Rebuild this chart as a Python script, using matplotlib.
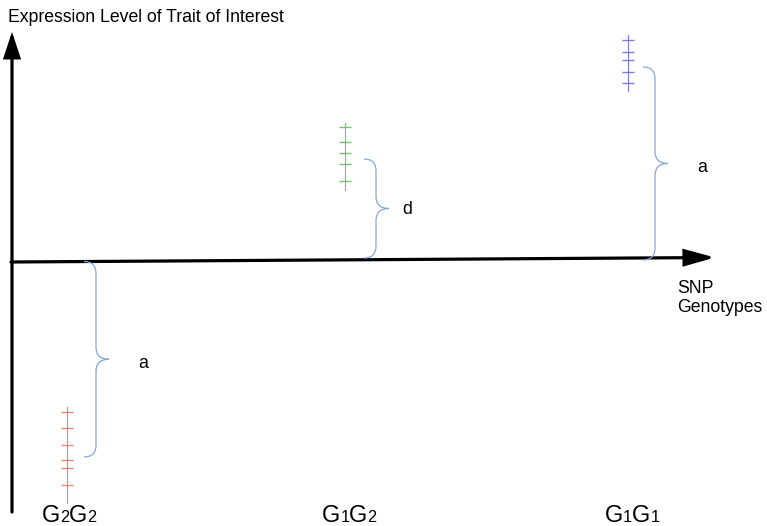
import matplotlib
matplotlib.use("Agg")
import matplotlib.pyplot as plt
from matplotlib.path import Path
from matplotlib.patches import PathPatch, FancyArrowPatch

plt.rcParams['font.family'] = ['Liberation Sans', 'DejaVu Sans']

# ---- data (y = expression level relative to the genotype axis) ----
genotype_parts = [[("G", "big"), ("2", "small"), ("G", "big"), ("2", "small")],
                  [("G", "big"), ("1", "small"), ("G", "big"), ("2", "small")],
                  [("G", "big"), ("1", "small"), ("G", "big"), ("1", "small")]]
genotype_x = [67, 345, 628]
label_x = [42, 322, 605]
red_levels = [-150, -166, -183, -198, -206, -223]
green_levels = [135, 120, 109, 98, 81]
blue_levels = [222, 210, 202, 190, 179]
group_levels = [red_levels, green_levels, blue_levels]
group_colors = ["#e87a66", "#6cbb6c", "#6a6af0"]
stem_ranges = [(-145, -241), (139, 72), (227, 171)]

brace_labels = ["a", "d", "a"]
brace_spans = [(0.5, -195), (103, 4), (195, 2)]
brace_x = [84, 364, 643]
brace_label_x = [143, 407, 702]
brace_label_y = [-102, 53, 94]

y_title = "Expression Level of Trait of Interest"
x_title_lines = ["SNP", "Genotypes"]

W, H = 767, 526
fig = plt.figure(figsize=(W / 100, H / 100), dpi=100)
ax = fig.add_axes([0, 0, 1, 1])
ax.set_xlim(0, W)
ax.set_ylim(-264, 262)
ax.axis("off")

# axes arrows
ax.add_patch(FancyArrowPatch((12, -250), (12, 230),
                             arrowstyle="-|>,head_length=15,head_width=5",
                             mutation_scale=1, lw=2.3, color="black",
                             shrinkA=0, shrinkB=0, joinstyle="miter"))
ax.add_patch(FancyArrowPatch((11, 0), (715, 4.5),
                             arrowstyle="-|>,head_length=18,head_width=5",
                             mutation_scale=1, lw=2.3, color="black",
                             shrinkA=0, shrinkB=0, joinstyle="miter"))

# marker groups
for x, levels, col, (s0, s1) in zip(genotype_x, group_levels, group_colors, stem_ranges):
    ax.plot([x, x], [s0, s1], color=col, lw=0.8, alpha=0.9)
    ax.plot([x] * len(levels), levels, linestyle="none", marker="_",
            markersize=8.6, mew=1.0, color=col, alpha=0.9)


def brace(x_end, y_top, y_bot, r=12, tip=13, h=12):
    xs = x_end + r
    xt = xs + tip
    ym = (y_top + y_bot) / 2
    verts = [(x_end, y_top), (xs, y_top), (xs, y_top - h),
             (xs, ym + h), (xs, ym), (xt, ym),
             (xs, ym), (xs, ym - h),
             (xs, y_bot + h), (xs, y_bot), (x_end, y_bot)]
    codes = [Path.MOVETO, Path.CURVE3, Path.CURVE3,
             Path.LINETO, Path.CURVE3, Path.CURVE3,
             Path.CURVE3, Path.CURVE3,
             Path.LINETO, Path.CURVE3, Path.CURVE3]
    ax.add_patch(PathPatch(Path(verts, codes), fill=False,
                           edgecolor="#86a6d8", lw=0.9))


for xe, (yt, yb), lab, lx, ly in zip(brace_x, brace_spans, brace_labels,
                                     brace_label_x, brace_label_y):
    brace(xe, yt, yb)
    ax.text(lx, ly, lab, fontsize=12.7, ha="center", va="center")

# titles
ax.text(8, 262 - 21.7, y_title, fontsize=12.7, ha="left", va="baseline")
ax.text(677, 262 - 293, x_title_lines[0], fontsize=12.7, ha="left", va="baseline")
ax.text(677, 262 - 312, x_title_lines[1], fontsize=12.7, ha="left", va="baseline")

# genotype labels with small baseline-aligned digits
renderer = fig.canvas.get_renderer()
sizes = {"big": 17.0, "small": 11.7}
for x0, parts in zip(label_x, genotype_parts):
    x = x0
    for s, sz in parts:
        t = ax.text(x, 262 - 521.5, s, fontsize=sizes[sz], ha="left", va="baseline")
        bb = t.get_window_extent(renderer)
        x += bb.width

fig.savefig("out.png", dpi=100)
